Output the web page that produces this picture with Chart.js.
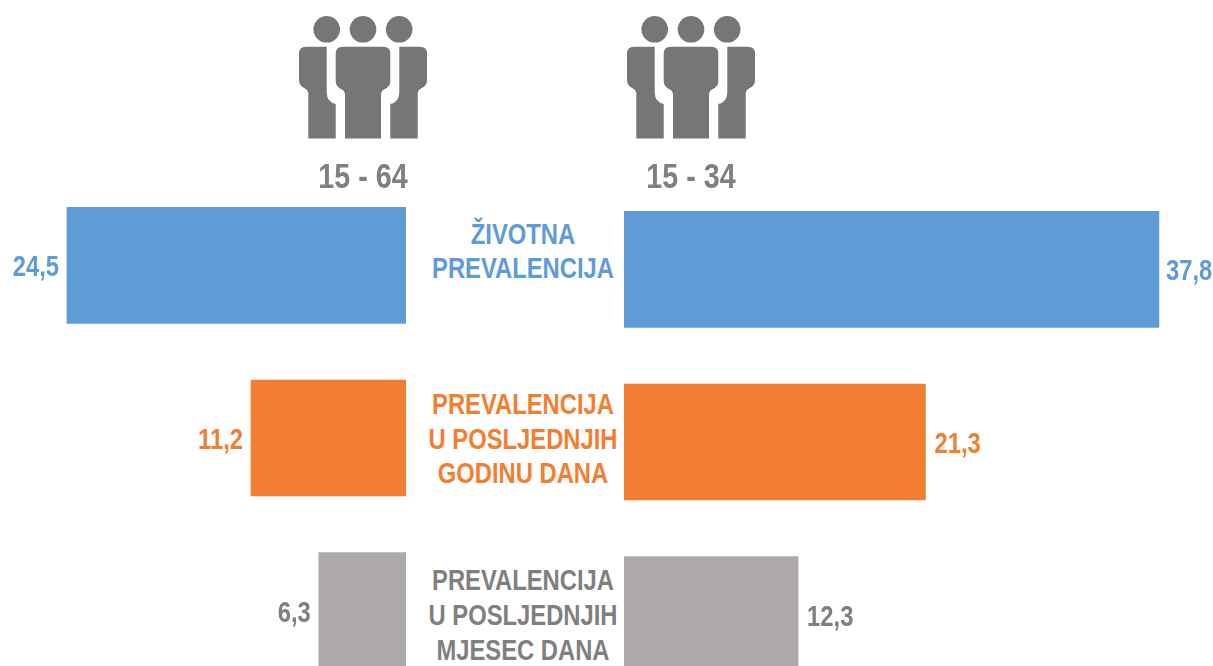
<!DOCTYPE html>
<html>
<head>
<meta charset="utf-8">
<script src="https://cdn.jsdelivr.net/npm/chart.js@4"></script>
<style>
html,body{margin:0;padding:0;background:#fff;width:1213px;height:666px;overflow:hidden}
#stage{position:relative;width:1213px;height:666px;overflow:hidden;font-family:"Liberation Sans",Arial,sans-serif;font-weight:bold}
canvas{position:absolute;display:block}
.t{position:absolute;white-space:nowrap;text-align:center;transform:translate(-50%,-50%) scaleX(0.82)}
svg{position:absolute;left:0;top:0}
</style>
</head>
<body>
<div id="stage">
<svg width="1213" height="200" viewBox="0 0 1213 200">
  <defs>
    <g id="people" fill="#767676">
      <circle cx="326.7" cy="29.3" r="13.3"/>
      <circle cx="363" cy="29.3" r="13.3"/>
      <circle cx="399.2" cy="29.3" r="13.3"/>
      <path d="M342.7 46.7H383.3Q390.3 46.7 390.3 53.7V81Q390.3 87 384 89.5Q381 91 381 95V138.5H345V95Q345 91 342 89.5Q335.7 87 335.7 81V53.7Q335.7 46.7 342.7 46.7Z"/>
      <path d="M306 46.7H326.7V92Q326.7 102 335.7 104V138.5H308.3V94Q308.3 90 305 88.5Q299 86 299 80V53.7Q299 46.7 306 46.7Z"/>
      <path d="M420 46.7H399.3V92Q399.3 102 390.3 104V138.5H417.7V94Q417.7 90 421 88.5Q427 86 427 80V53.7Q427 46.7 420 46.7Z"/>
    </g>
  </defs>
  <use href="#people"/>
  <use href="#people" x="328"/>
</svg>
<canvas id="left" width="406" height="518" style="left:0;top:179px"></canvas>
<canvas id="right" width="589" height="518" style="left:624px;top:183px"></canvas>
</div>
<script>
const categories = [["ŽIVOTNA","PREVALENCIJA"],["PREVALENCIJA","U POSLJEDNJIH","GODINU DANA"],["PREVALENCIJA","U POSLJEDNJIH","MJESEC DANA"]];
const groupTitles = ["15 - 64","15 - 34"];
const values1564 = [24.5,11.2,6.3];
const values1534 = [37.8,21.3,12.3];
const barColors = ["#5F9BD6","#F37E32","#ADA9AB"];
const textColors = ["#5F9BD6","#F37E32","#7F7F7F"];
const valueFont = 'bold 29px "Liberation Sans",Arial,sans-serif';

const valueLabels = {
  id:"valueLabels",
  afterDatasetsDraw(chart,args,opts){
    const c = chart.ctx, meta = chart.getDatasetMeta(0);
    meta.data.forEach((bar,i)=>{
      c.save();
      c.font = valueFont; c.textBaseline = "middle"; c.textAlign = opts.side === "left" ? "right" : "left";
      c.fillStyle = textColors[i];
      const v = chart.data.datasets[0].data[i].toFixed(1).replace(".",",");
      const x = opts.side === "left" ? bar.x - 8 : bar.x + opts.gaps[i];
      c.translate(x, bar.y + 3);
      c.scale(0.82,1);
      c.fillText(v, 0, 0);
      c.restore();
    });
  }
};

function makeChart(id,values,maxVal,reverse,side){
  return new Chart(document.getElementById(id),{
    type:"bar",
    data:{labels:categories.map(l=>l.join(" ")),datasets:[{data:values,backgroundColor:barColors,barThickness:116,borderWidth:0}]},
    options:{
      indexAxis:"y",responsive:false,animation:false,
      layout:{padding:0},
      scales:{
        x:{display:false,min:0,max:maxVal,reverse:reverse},
        y:{display:false}
      },
      plugins:{legend:{display:false},tooltip:{enabled:false},title:{display:false},valueLabels:{side:side,gaps:[7,9,9]}}
    },
    plugins:[valueLabels]
  });
}
makeChart("left",values1564,29.34,true,"left");
makeChart("right",values1534,41.62,false,"right");

const stage = document.getElementById("stage");
function addText(txt,x,y,size,color){
  const d = document.createElement("div");
  d.className = "t"; d.textContent = txt;
  d.style.left = x+"px"; d.style.top = y+"px"; d.style.fontSize = size+"px"; d.style.color = color;
  stage.appendChild(d);
}
addText(groupTitles[0],363,175.5,35,"#7F7F7F");
addText(groupTitles[1],691,175.5,35,"#7F7F7F");
const lineY = [[234,268],[404,439,473],[580,615,650]];
categories.forEach((lines,i)=>lines.forEach((l,j)=>addText(l,523,lineY[i][j],29,textColors[i])));
</script>
</body>
</html>
